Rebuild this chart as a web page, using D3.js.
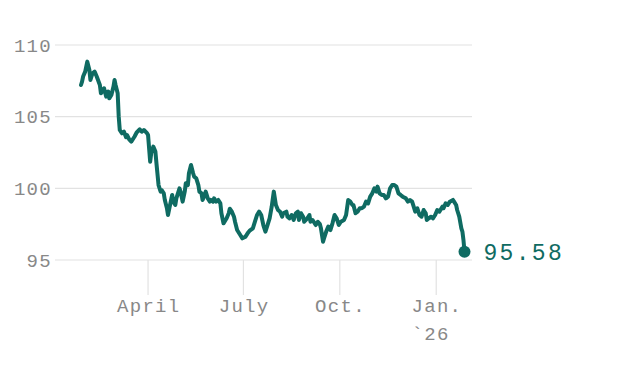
<!DOCTYPE html>
<html>
<head>
<meta charset="utf-8">
<script src="https://cdn.jsdelivr.net/npm/d3@7"></script>
<style>
  html, body { margin: 0; padding: 0; background: #fff; }
  svg { display: block; }
  text { font-family: "Liberation Mono", "DejaVu Sans Mono", monospace; }
</style>
</head>
<body>
<svg id="chart" width="625" height="375"></svg>
<script>
const dates = [
"2025-01-27","2025-01-28","2025-01-29","2025-01-31","2025-02-02","2025-02-04","2025-02-05","2025-02-07","2025-02-09","2025-02-11",
"2025-02-14","2025-02-15","2025-02-17","2025-02-18","2025-02-20","2025-02-22","2025-02-23","2025-02-25","2025-02-27","2025-02-28",
"2025-03-01","2025-03-03","2025-03-04","2025-03-05","2025-03-07","2025-03-09","2025-03-11","2025-03-12","2025-03-14","2025-03-16",
"2025-03-19","2025-03-21","2025-03-24","2025-03-26","2025-03-28","2025-03-31","2025-04-01","2025-04-03","2025-04-04","2025-04-06",
"2025-04-08","2025-04-09","2025-04-11","2025-04-13","2025-04-14","2025-04-16","2025-04-17","2025-04-19","2025-04-20","2025-04-22",
"2025-04-24","2025-04-25","2025-04-27","2025-04-28","2025-05-01","2025-05-02","2025-05-04","2025-05-06","2025-05-07","2025-05-09",
"2025-05-10","2025-05-12","2025-05-14","2025-05-15","2025-05-17","2025-05-19","2025-05-20","2025-05-22","2025-05-23","2025-05-25",
"2025-05-26","2025-05-28","2025-05-30","2025-05-31","2025-06-02","2025-06-03","2025-06-05","2025-06-07","2025-06-09","2025-06-10",
"2025-06-12","2025-06-14","2025-06-15","2025-06-17","2025-06-18","2025-06-20","2025-06-22","2025-06-23","2025-06-25","2025-06-28",
"2025-06-30","2025-07-03","2025-07-05","2025-07-07","2025-07-10","2025-07-12","2025-07-14","2025-07-16","2025-07-18","2025-07-20",
"2025-07-22","2025-07-24","2025-07-26","2025-07-28","2025-07-30","2025-08-01","2025-08-03","2025-08-05","2025-08-07","2025-08-08",
"2025-08-11","2025-08-12","2025-08-14","2025-08-16","2025-08-18","2025-08-20","2025-08-22","2025-08-23","2025-08-25","2025-08-27",
"2025-08-28","2025-08-31","2025-09-02","2025-09-03","2025-09-05","2025-09-08","2025-09-10","2025-09-12","2025-09-13","2025-09-15",
"2025-09-16","2025-09-18","2025-09-20","2025-09-22","2025-09-24","2025-09-26","2025-09-28","2025-09-30","2025-10-02","2025-10-05",
"2025-10-07","2025-10-09","2025-10-11","2025-10-13","2025-10-14","2025-10-16","2025-10-18","2025-10-20","2025-10-22","2025-10-24",
"2025-10-26","2025-10-28","2025-10-30","2025-11-01","2025-11-03","2025-11-05","2025-11-06","2025-11-08","2025-11-10","2025-11-12",
"2025-11-14","2025-11-16","2025-11-18","2025-11-20","2025-11-22","2025-11-24","2025-11-26","2025-11-28","2025-11-30","2025-12-03",
"2025-12-05","2025-12-07","2025-12-09","2025-12-10","2025-12-12","2025-12-14","2025-12-16","2025-12-18","2025-12-20","2025-12-22",
"2025-12-23","2025-12-25","2025-12-27","2025-12-29","2025-12-31","2026-01-02","2026-01-04","2026-01-07","2026-01-08","2026-01-10",
"2026-01-12","2026-01-14","2026-01-17","2026-01-18","2026-01-20","2026-01-21","2026-01-23","2026-01-25","2026-01-26","2026-01-27",
"2026-01-28"
];
const values = [
107.21,107.44,107.80,108.14,108.84,108.26,107.56,108.03,108.14,107.80,
107.21,106.63,106.86,106.98,106.40,106.75,106.28,106.51,107.10,107.56,
107.21,106.63,105.00,104.07,103.84,103.95,103.56,103.72,103.42,103.26,
103.60,103.88,104.12,103.95,104.07,103.85,103.72,101.86,102.45,102.91,
102.56,101.75,100.23,99.77,99.88,99.65,99.19,98.61,98.14,98.84,
99.54,99.07,98.84,99.30,100.00,99.77,99.07,99.77,100.35,100.23,
101.05,101.63,101.05,100.81,100.70,100.23,99.77,99.65,99.19,99.54,
99.77,99.30,99.07,99.19,99.07,99.30,99.07,99.19,98.95,98.26,
97.56,97.79,97.91,98.26,98.58,98.37,98.02,97.67,97.09,96.74,
96.51,96.63,96.86,97.05,97.21,97.67,98.14,98.37,98.14,97.44,
96.98,97.44,97.91,98.72,99.77,98.84,98.49,98.37,98.02,98.26,
98.37,98.02,97.91,98.14,97.79,98.26,98.37,97.79,98.26,98.02,
97.67,97.91,98.14,97.67,97.79,97.44,97.67,97.50,97.21,96.28,
96.52,96.98,97.33,97.09,97.56,98.14,97.91,97.44,97.67,97.79,
98.14,99.19,99.07,98.84,98.84,98.26,98.37,98.61,98.61,98.72,
99.07,98.95,99.42,99.65,100.00,99.77,100.12,99.65,99.54,99.54,
99.30,99.42,100.00,100.23,100.23,100.12,99.65,99.54,99.42,99.30,
99.07,99.19,99.07,98.84,98.37,98.61,98.14,98.02,98.49,98.26,
97.79,97.91,98.02,97.91,98.14,98.49,98.37,98.72,98.61,98.95,
98.84,99.07,99.19,99.07,98.84,98.49,98.02,97.21,96.98,96.40,
95.58
];
const yTicks = [95, 100, 105, 110];
const xTickDates = ["2025-04-01","2025-07-01","2025-10-01","2026-01-01"];
const xTickLabels = ["April","July","Oct.","Jan."];
const yearLabel = "`26";
const lastLabel = "95.58";

const parse = d3.timeParse("%Y-%m-%d");
const data = dates.map((d, i) => ({ date: parse(d), value: values[i] }));

const svg = d3.select("#chart");
const teal = "#0f6b62";
const grid = "#e2e2e2";
const textGray = "#888888";

const x = d3.scaleTime()
  .domain([parse("2025-01-27"), parse("2026-01-28")])
  .range([81, 464.5]);
const y = d3.scaleLinear().domain([95, 110]).range([260, 45]);

const labelFont = 19, labelSpacing = 1.3;

// horizontal gridlines + labels
const gy = svg.append("g");
gy.selectAll("line").data(yTicks).join("line")
  .attr("x1", 55).attr("x2", 472)
  .attr("y1", d => y(d)).attr("y2", d => y(d))
  .attr("stroke", grid).attr("stroke-width", 1.2);
gy.selectAll("text").data(yTicks).join("text")
  .attr("x", 52).attr("y", d => y(d) + 6.5)
  .attr("text-anchor", "end")
  .attr("font-size", labelFont).attr("letter-spacing", labelSpacing)
  .attr("fill", textGray)
  .text(d => d);

// x ticks
const gx = svg.append("g");
const xt = xTickDates.map((d, i) => ({ date: parse(d), label: xTickLabels[i] }));
gx.selectAll("line").data(xt).join("line")
  .attr("x1", d => x(d.date)).attr("x2", d => x(d.date))
  .attr("y1", 260).attr("y2", 295)
  .attr("stroke", grid).attr("stroke-width", 1.2);
const xl = gx.selectAll("text.lab").data(xt).join("text")
  .attr("class", "lab")
  .attr("x", d => x(d.date) + 0.7).attr("y", 312)
  .attr("text-anchor", "middle")
  .attr("font-size", labelFont).attr("letter-spacing", labelSpacing)
  .attr("fill", textGray)
  .text(d => d.label);
// year label under the last tick
const janNode = xl.filter((d, i) => i === xt.length - 1).node();
const jb = janNode.getBBox();
gx.append("text")
  .attr("x", jb.x).attr("y", 340)
  .attr("font-size", labelFont).attr("letter-spacing", labelSpacing)
  .attr("fill", textGray)
  .text(yearLabel);

// line
const line = d3.line().x(d => x(d.date)).y(d => y(d.value)).curve(d3.curveLinear);
svg.append("path").datum(data)
  .attr("d", line)
  .attr("fill", "none")
  .attr("stroke", teal)
  .attr("stroke-width", 4)
  .attr("stroke-linejoin", "round")
  .attr("stroke-linecap", "round");

// end dot + label
const last = data[data.length - 1];
svg.append("circle")
  .attr("cx", x(last.date)).attr("cy", y(last.value))
  .attr("r", 6).attr("fill", teal);
svg.append("text")
  .attr("x", x(last.date) + 19).attr("y", y(last.value) + 8.5)
  .attr("font-size", 23).attr("letter-spacing", 2.3)
  .attr("fill", teal)
  .text(lastLabel);
</script>
</body>
</html>
